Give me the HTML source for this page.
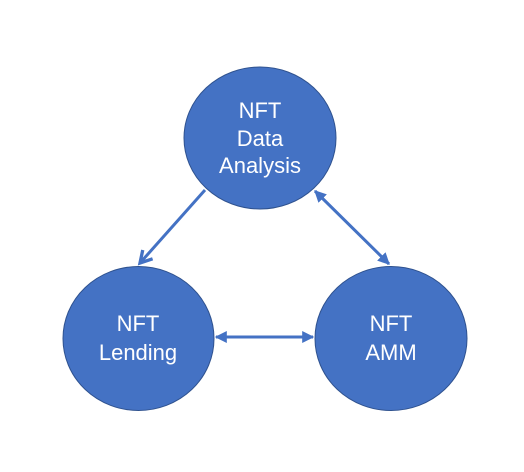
<!DOCTYPE html>
<html><head><style>body{margin:0;background:#fff}</style></head><body>
<svg width="524" height="467" viewBox="0 0 524 467" xmlns="http://www.w3.org/2000/svg">
<defs>
<marker id="open" viewBox="0 0 10 10" refX="8" refY="5" markerWidth="5.5" markerHeight="5.5" orient="auto-start-reverse"><path d="M1 1 L8 5 L1 9" fill="none" stroke="#4472C4" stroke-width="2"/></marker>
<marker id="tri" viewBox="0 0 10 10" refX="9" refY="5" markerWidth="4" markerHeight="4" orient="auto-start-reverse"><path d="M0 0 L10 5 L0 10 z" fill="#4472C4"/></marker>
</defs>
<g fill="#4472C4" stroke="#2F528F" stroke-width="1">
<ellipse cx="260" cy="138" rx="76" ry="71"/>
<ellipse cx="138.5" cy="338.5" rx="75.5" ry="72"/>
<ellipse cx="391" cy="338.5" rx="76" ry="72"/>
</g>
<g stroke="#4472C4" stroke-width="3" fill="none">
<line x1="205" y1="190" x2="140" y2="263" marker-end="url(#open)"/>
<line x1="315" y1="191" x2="389" y2="264" marker-start="url(#tri)" marker-end="url(#tri)"/>
<line x1="216" y1="337" x2="313" y2="337" marker-start="url(#tri)" marker-end="url(#tri)"/>
</g>
<g fill="#fff" font-family="Liberation Sans, sans-serif" font-size="22" text-anchor="middle">
<text x="260" y="118">NFT</text>
<text x="260" y="146">Data</text>
<text x="260" y="173">Analysis</text>
<text x="138" y="331">NFT</text>
<text x="138" y="360">Lending</text>
<text x="391" y="331">NFT</text>
<text x="391" y="360">AMM</text>
</g>
</svg>
</body></html>
